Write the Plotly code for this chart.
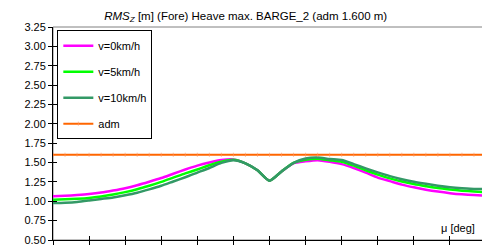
import plotly.graph_objects as go

mu_deg = list(range(0, 361, 10))

v0_kmh = [1.064, 1.070, 1.080, 1.093, 1.112, 1.138, 1.168, 1.207, 1.252, 1.300,
          1.355, 1.410, 1.460, 1.500, 1.532, 1.540, 1.490, 1.400, 1.265, 1.385,
          1.490, 1.515, 1.530, 1.510, 1.480, 1.430, 1.370, 1.306, 1.260, 1.215,
          1.180, 1.150, 1.125, 1.105, 1.090, 1.080, 1.072]
v5_kmh = [1.020, 1.025, 1.032, 1.043, 1.062, 1.087, 1.118, 1.155, 1.200, 1.250,
          1.305, 1.360, 1.410, 1.465, 1.510, 1.535, 1.490, 1.400, 1.265, 1.385,
          1.495, 1.535, 1.550, 1.530, 1.510, 1.460, 1.400, 1.344, 1.295, 1.255,
          1.222, 1.195, 1.170, 1.152, 1.137, 1.126, 1.118]
v10_kmh = [0.977, 0.982, 0.992, 1.010, 1.030, 1.050, 1.077, 1.110, 1.153, 1.200,
           1.255, 1.310, 1.370, 1.430, 1.495, 1.530, 1.490, 1.400, 1.265, 1.385,
           1.495, 1.553, 1.566, 1.545, 1.532, 1.480, 1.425, 1.373, 1.325, 1.285,
           1.252, 1.225, 1.200, 1.180, 1.167, 1.160, 1.156]
adm = [1.6] * len(mu_deg)

y_ticks = [0.5, 0.75, 1.0, 1.25, 1.5, 1.75, 2.0, 2.25, 2.5, 2.75, 3.0, 3.25]
x_ticks = list(range(0, 361, 30))

series = [
    ("v=0km/h", v0_kmh, "#FF00FF"),
    ("v=5km/h", v5_kmh, "#00FF00"),
    ("v=10km/h", v10_kmh, "#339966"),
]

fig = go.Figure()
for i, (name, vals, col) in enumerate(series):
    fig.add_trace(go.Scatter(x=mu_deg, y=vals, name=name, mode="lines",
                             line=dict(color=col, width=2.5, shape="spline", smoothing=0.6),
                             legendgroup=f"g{i}"))
fig.add_trace(go.Scatter(x=mu_deg, y=adm, name="adm", mode="lines+markers",
                         line=dict(color="#FF6600", width=2),
                         marker=dict(symbol="line-ns", size=3, color="#FF6600",
                                     line=dict(color="#FF9966", width=0.6)),
                         legendgroup="g3"))
# dummy trace for overlay axes (inside ticks)
fig.add_trace(go.Scatter(x=[0], y=[0.5], xaxis="x2", yaxis="y2", showlegend=False,
                         mode="markers", marker=dict(opacity=0), hoverinfo="skip"))

font = "Liberation Sans, Arial, sans-serif"
fig.update_layout(
    width=490, height=248,
    margin=dict(l=45, r=12, t=19, b=10),
    paper_bgcolor="white", plot_bgcolor="white",
    font=dict(family=font, size=11, color="black"),
    title=dict(text="<i>RMS</i><sub><i>Z</i></sub> [m] (Fore) Heave max. BARGE_2 (adm 1.600 m)",
               xref="paper", x=0.445, xanchor="center", yref="container", y=0.985,
               yanchor="top", font=dict(family=font, size=11.5, color="black")),
    showlegend=True,
    legend=dict(x=0.01, y=0.985, xanchor="left", yanchor="top",
                bgcolor="white", bordercolor="black", borderwidth=1,
                traceorder="grouped", tracegroupgap=7, itemwidth=30,
                font=dict(family=font, size=11, color="black")),
    xaxis=dict(range=[0, 360], tickvals=x_ticks, showticklabels=False,
               ticks="outside", ticklen=4, tickcolor="black", tickwidth=1,
               showline=True, linecolor="black", linewidth=1, showgrid=False,
               zeroline=False, fixedrange=True),
    yaxis=dict(range=[0.5, 3.25], tickvals=y_ticks,
               ticktext=[f"{v:.2f}" for v in y_ticks],
               ticks="outside", ticklen=4, tickcolor="black", tickwidth=1,
               showline=True, linecolor="black", linewidth=1, showgrid=False,
               zeroline=False, fixedrange=True),
    xaxis2=dict(overlaying="x", anchor="y2", range=[0, 360], tickvals=x_ticks,
                showticklabels=False, ticks="inside", ticklen=4, tickcolor="black",
                showline=False, showgrid=False, zeroline=False, side="bottom"),
    yaxis2=dict(overlaying="y", anchor="x2", range=[0.5, 3.25], tickvals=y_ticks,
                showticklabels=False, ticks="inside", ticklen=4, tickcolor="black",
                showline=False, showgrid=False, zeroline=False, side="left"),
    shapes=[dict(type="rect", xref="paper", yref="paper", x0=0, x1=1, y0=0, y1=1,
                 line=dict(color="#808080", width=1), layer="below")],
    annotations=[dict(text="μ [deg]", xref="paper", yref="paper", x=0.98, y=0.02,
                      xanchor="right", yanchor="bottom", showarrow=False,
                      font=dict(family=font, size=11, color="black"))],
)

fig.write_html("out.html")
